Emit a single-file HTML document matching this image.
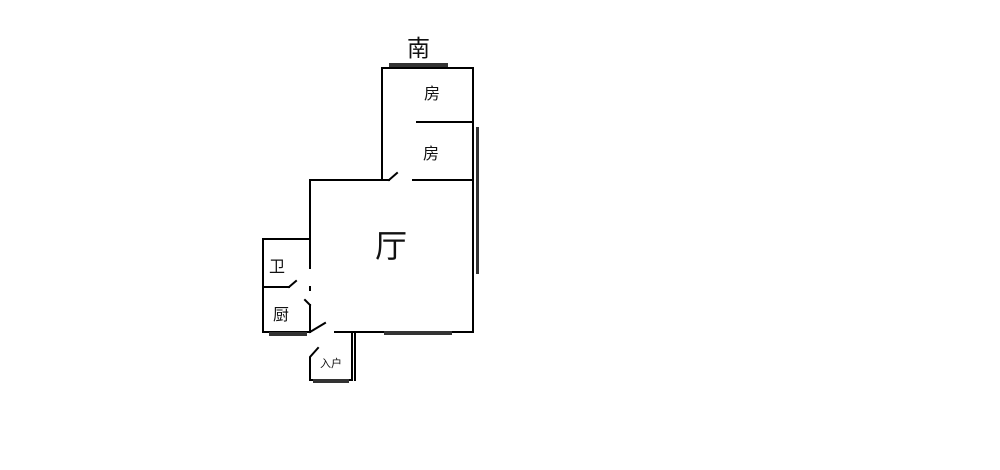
<!DOCTYPE html>
<html><head><meta charset="utf-8"><style>
body{margin:0;background:#fff;width:1000px;height:470px;overflow:hidden}
svg{display:block}
text{font-family:"Liberation Sans","Noto Sans CJK SC",sans-serif;fill:#111}
</style></head><body>
<svg width="1000" height="470" viewBox="0 0 1000 470">
<g stroke="#000" stroke-width="2" fill="none" stroke-linecap="square">
<polyline points="382,180 382,68 473,68 473,332 335,332"/>
<line x1="417" y1="122" x2="473" y2="122"/>
<line x1="413" y1="180" x2="473" y2="180"/>
<line x1="310" y1="180" x2="389" y2="180"/>
<line x1="389" y1="180" x2="397" y2="173"/>
<polyline points="310,180 310,268"/>
<line x1="310" y1="287" x2="310" y2="290"/>
<polyline points="310,305 310,332"/>
<line x1="305" y1="300" x2="310" y2="305"/>
<line x1="310" y1="332" x2="325" y2="323"/>
<polyline points="310,239 263,239 263,332 310,332"/>
<line x1="263" y1="287" x2="289" y2="287"/>
<line x1="289" y1="287" x2="296" y2="281"/>
<polyline points="352,332 352,380 310,380 310,357 318,348"/>
<line x1="355" y1="332" x2="355" y2="380"/>
</g>
<g fill="#333">
<rect x="389" y="63" width="59" height="4"/>
<rect x="476" y="127" width="3" height="147"/>
<rect x="384" y="331" width="68" height="4"/>
<rect x="269" y="332" width="38" height="4"/>
<rect x="313" y="379" width="36" height="4"/>
</g>
<text x="407" y="56" font-size="23">南</text>
<text x="424" y="99" font-size="16">房</text>
<text x="423" y="159" font-size="16">房</text>
<text x="375" y="257" font-size="32">厅</text>
<text x="269" y="272" font-size="16">卫</text>
<text x="273" y="320" font-size="16">厨</text>
<text x="320" y="367" font-size="11">入户</text>
</svg>
</body></html>
